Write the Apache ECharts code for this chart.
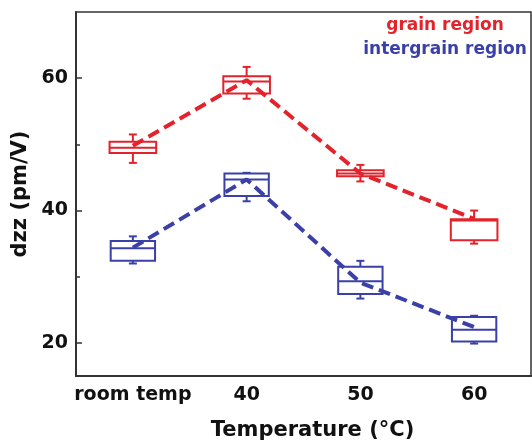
<!DOCTYPE html>
<html>
<head>
<meta charset="utf-8">
<script src="https://cdn.jsdelivr.net/npm/echarts@6/dist/echarts.min.js"></script>
<style>
html,body{margin:0;padding:0;background:#fff;}
#main{width:532px;height:446px;}
</style>
</head>
<body>
<div id="main"></div>
<script>
var categories = ['room temp', '40', '50', '60'];
// [min, Q1, median, Q3, max]
var grainBox = [
  [47.2, 48.7, 49.5, 50.4, 51.5],
  [56.9, 57.7, 59.5, 60.3, 61.7],
  [44.4, 45.2, 45.6, 46.1, 46.9],
  [35.0, 35.5, 38.5, 38.7, 40.0]
];
var intergrainBox = [
  [32.0, 32.4, 34.3, 35.4, 36.1],
  [41.4, 42.2, 44.7, 45.6, 45.7],
  [26.7, 27.4, 29.3, 31.5, 32.4],
  [19.9, 20.2, 22.0, 23.9, 24.1]
];
var grainMean = [49.8, 59.7, 45.6, 38.75];
var intergrainMean = [34.4, 44.7, 29.1, 22.4];
var yTicks = [20, 40, 60];
var yMinorTicks = [30, 50];
var legendNames = ['grain region', 'intergrain region'];

var RED = '#e3222b';
var BLUE = '#3a40a8';
var FONT = '"DejaVu Sans", "Liberation Sans", Arial, sans-serif';

function boxData(arr) {
  return arr.map(function (d, i) { return [i].concat(d); });
}

function makeRender(color, ratio) {
  return function (params, api) {
    var x = api.value(0);
    var lo = api.coord([x, api.value(1)]);
    var q1 = api.coord([x, api.value(2)]);
    var md = api.coord([x, api.value(3)]);
    var q3 = api.coord([x, api.value(4)]);
    var hi = api.coord([x, api.value(5)]);
    var bw = api.size([1, 0])[0] * ratio;
    var cap = 8;
    var cx = lo[0];
    var st = { stroke: color, lineWidth: 2, fill: null };
    return {
      type: 'group',
      children: [
        { type: 'line', shape: { x1: cx, y1: hi[1], x2: cx, y2: q3[1] }, style: st },
        { type: 'line', shape: { x1: cx, y1: q1[1], x2: cx, y2: lo[1] }, style: st },
        { type: 'line', shape: { x1: cx - cap / 2, y1: hi[1], x2: cx + cap / 2, y2: hi[1] }, style: st },
        { type: 'line', shape: { x1: cx - cap / 2, y1: lo[1], x2: cx + cap / 2, y2: lo[1] }, style: st },
        { type: 'rect', shape: { x: cx - bw / 2, y: q3[1], width: bw, height: q1[1] - q3[1] }, style: { stroke: color, lineWidth: 2, fill: 'rgba(0,0,0,0)' } },
        { type: 'line', shape: { x1: cx - bw / 2, y1: md[1], x2: cx + bw / 2, y2: md[1] }, style: st }
      ]
    };
  };
}

var chart = echarts.init(document.getElementById('main'));
chart.setOption({
  animation: false,
  backgroundColor: '#fff',
  textStyle: { fontFamily: FONT },
  grid: { left: 76, right: 1, top: 12, bottom: 66, show: true, borderColor: '#333', borderWidth: 1.5 },
  xAxis: {
    type: 'category',
    data: categories,
    boundaryGap: true,
    axisLine: { lineStyle: { color: '#333', width: 2 } },
    axisTick: { inside: true, alignWithLabel: true, interval: 0, length: 6, lineStyle: { color: '#333', width: 1.5 } },
    axisLabel: { interval: 0, color: '#111', fontSize: 19, fontWeight: 'bold', fontFamily: FONT, margin: 10 },
    name: 'Temperature (°C)',
    nameLocation: 'middle',
    nameGap: 44,
    nameTextStyle: { color: '#111', fontSize: 21, fontWeight: 'bold', fontFamily: FONT, padding: [0, 0, 0, 18] },
    splitLine: { show: false }
  },
  yAxis: [{
    type: 'value',
    min: 15,
    max: 70,
    interval: 5,
    axisLine: { show: true, lineStyle: { color: '#333', width: 2 } },
    axisTick: { show: true, inside: true, length: 6, customValues: yTicks, lineStyle: { color: '#333', width: 1.5 } },
    axisLabel: { color: '#111', fontSize: 19, fontWeight: 'bold', fontFamily: FONT, margin: 8, customValues: yTicks },
    splitLine: { show: false },
    name: 'dzz (pm/V)',
    nameLocation: 'middle',
    nameRotate: 90,
    nameGap: 38,
    nameTextStyle: { color: '#111', fontSize: 21, fontWeight: 'bold', fontFamily: FONT }
  }, {
    type: 'value',
    min: 15,
    max: 70,
    interval: 5,
    position: 'left',
    axisLine: { show: false },
    axisTick: { show: true, inside: true, length: 4, customValues: yMinorTicks, lineStyle: { color: '#333', width: 1.5 } },
    axisLabel: { show: false },
    splitLine: { show: false }
  }],
  graphic: [
    { type: 'text', x: 445, y: 26, style: { text: legendNames[0], fill: RED, font: 'bold 17px ' + FONT, textAlign: 'center', textVerticalAlign: 'middle' } },
    { type: 'text', x: 445, y: 50, style: { text: legendNames[1], fill: BLUE, font: 'bold 17px ' + FONT, textAlign: 'center', textVerticalAlign: 'middle' } }
  ],
  series: [
    { type: 'custom', name: legendNames[0], renderItem: makeRender(RED, 0.41), data: boxData(grainBox), encode: { x: 0, y: [1, 2, 3, 4, 5] }, z: 2 },
    { type: 'custom', name: legendNames[1], renderItem: makeRender(BLUE, 0.39), data: boxData(intergrainBox), encode: { x: 0, y: [1, 2, 3, 4, 5] }, z: 2 },
    { type: 'line', data: grainMean, symbol: 'none', lineStyle: { color: RED, width: 4, type: [12, 6] }, z: 5 },
    { type: 'line', data: intergrainMean, symbol: 'none', lineStyle: { color: BLUE, width: 4, type: [12, 6] }, z: 5 }
  ]
});
</script>
</body>
</html>
